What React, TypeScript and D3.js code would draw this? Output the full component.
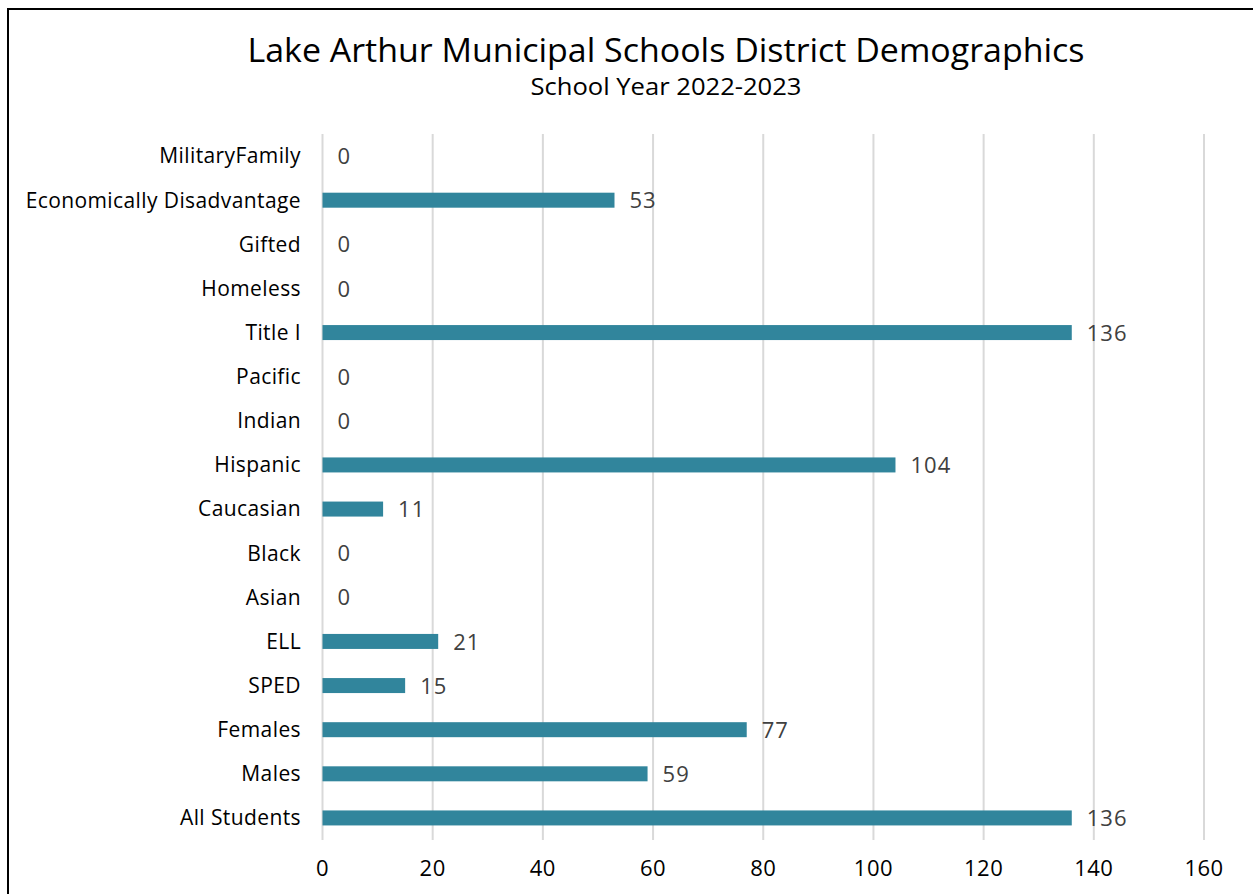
import React, { useRef, useEffect } from "react";
import * as d3 from "d3";

const categories = [
  "MilitaryFamily",
  "Economically Disadvantage",
  "Gifted",
  "Homeless",
  "Title I",
  "Pacific",
  "Indian",
  "Hispanic",
  "Caucasian",
  "Black",
  "Asian",
  "ELL",
  "SPED",
  "Females",
  "Males",
  "All Students",
];
const counts = [0, 53, 0, 0, 136, 0, 0, 104, 11, 0, 0, 21, 15, 77, 59, 136];
const xTicks = [0, 20, 40, 60, 80, 100, 120, 140, 160];

const barColor = "#31859c";
const font = "'Open Sans', 'Liberation Sans', Arial, sans-serif";

const App: React.FC = () => {
  const ref = useRef<SVGSVGElement | null>(null);

  useEffect(() => {
    if (!ref.current) return;
    const width = 1253;
    const height = 894;
    const svg = d3.select(ref.current);
    svg.selectAll("*").remove();

    svg.append("rect").attr("width", width).attr("height", height).attr("fill", "#fff");

    // frame, runs off the right and bottom edge
    svg
      .append("rect")
      .attr("x", 8)
      .attr("y", 9)
      .attr("width", width + 20)
      .attr("height", height + 20)
      .attr("fill", "none")
      .attr("stroke", "#000")
      .attr("stroke-width", 2);

    svg
      .append("text")
      .attr("x", 666)
      .attr("y", 62)
      .attr("text-anchor", "middle")
      .attr("font-family", font)
      .attr("font-size", 32)
      .attr("textLength", 837)
      .attr("lengthAdjust", "spacingAndGlyphs")
      .attr("fill", "#000")
      .text("Lake Arthur Municipal Schools District Demographics");

    svg
      .append("text")
      .attr("x", 666)
      .attr("y", 95)
      .attr("text-anchor", "middle")
      .attr("font-family", font)
      .attr("font-size", 23)
      .attr("textLength", 271)
      .attr("lengthAdjust", "spacingAndGlyphs")
      .attr("fill", "#000")
      .text("School Year 2022-2023");

    const x = d3.scaleLinear().domain([0, 160]).range([322.5, 1204]);
    const y = d3
      .scaleBand<string>()
      .domain(categories)
      .range([134, 840])
      .paddingInner(0.66)
      .paddingOuter(0.33);

    // gridlines
    svg
      .append("g")
      .selectAll("line")
      .data(xTicks)
      .join("line")
      .attr("x1", (d) => x(d))
      .attr("x2", (d) => x(d))
      .attr("y1", 134)
      .attr("y2", 840)
      .attr("stroke", "#d9d9d9")
      .attr("stroke-width", 2);

    svg
      .append("g")
      .selectAll("rect")
      .data(categories)
      .join("rect")
      .attr("x", x(0))
      .attr("y", (d) => y(d)!)
      .attr("width", (_d, i) => x(counts[i]) - x(0))
      .attr("height", y.bandwidth())
      .attr("fill", barColor);

    svg
      .append("g")
      .selectAll("text")
      .data(categories)
      .join("text")
      .attr("x", 301)
      .attr("y", (d) => y(d)! + y.bandwidth() / 2)
      .attr("dy", "0.35em")
      .attr("text-anchor", "end")
      .attr("font-family", font)
      .attr("font-size", 21)
      .attr("letter-spacing", 0.4)
      .attr("fill", "#000")
      .text((d) => d);

    svg
      .append("g")
      .selectAll("text")
      .data(categories)
      .join("text")
      .attr("x", (_d, i) => x(counts[i]) + 15)
      .attr("y", (d) => y(d)! + y.bandwidth() / 2)
      .attr("dy", "0.37em")
      .attr("font-family", font)
      .attr("font-size", 22)
      .attr("letter-spacing", 1)
      .attr("fill", "#404040")
      .text((_d, i) => String(counts[i]));

    svg
      .append("g")
      .selectAll("text")
      .data(xTicks)
      .join("text")
      .attr("x", (d) => x(d))
      .attr("y", 876)
      .attr("text-anchor", "middle")
      .attr("font-family", font)
      .attr("font-size", 22)
      .attr("letter-spacing", 0.5)
      .attr("fill", "#000")
      .text((d) => String(d));
  }, []);

  return (
    <svg
      ref={ref}
      width={1253}
      height={894}
      style={{ position: "absolute", left: 0, top: 0, display: "block" }}
    />
  );
};

export default App;
